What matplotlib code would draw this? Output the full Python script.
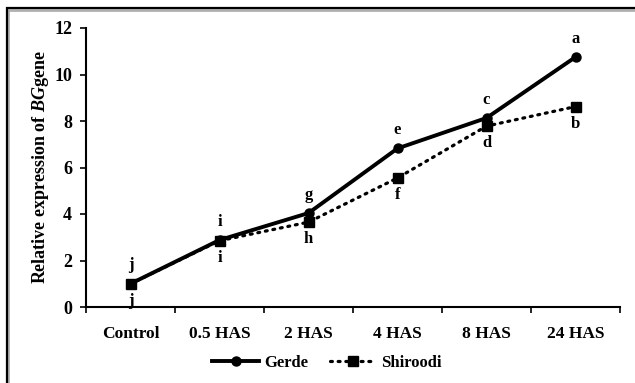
import matplotlib.pyplot as plt
import numpy as np
from matplotlib.patches import Rectangle
from matplotlib.lines import Line2D

plt.rcParams['font.family'] = ['Liberation Serif', 'DejaVu Serif']
plt.rcParams['mathtext.fontset'] = 'custom'
plt.rcParams['mathtext.it'] = 'Liberation Serif:italic:bold'
plt.rcParams['mathtext.rm'] = 'Liberation Serif:bold'

# data
times = ['Control', '0.5 HAS', '2 HAS', '4 HAS', '8 HAS', '24 HAS']
gerde = [1.0, 2.88, 4.04, 6.82, 8.13, 10.75]
shiroodi = [1.0, 2.85, 3.65, 5.55, 7.78, 8.62]
gerde_letters = ['j', 'i', 'g', 'e', 'c', 'a']
shiroodi_letters = ['j', 'i', 'h', 'f', 'd', 'b']

fig = plt.figure(figsize=(6.35, 3.83), dpi=100)
ax = fig.add_axes([86 / 635, 1 - 307 / 383, 534 / 635, 279 / 383])

# outer frame with a light shadow
fig.patches.append(Rectangle((8 / 635, -0.1), 1.1, 1 - 10 / 383 + 0.1,
                             transform=fig.transFigure, fill=False,
                             edgecolor='#b0b0b0', lw=2.0, zorder=0))
fig.patches.append(Rectangle((6.5 / 635, -0.1), 1.1, 1 - 8.5 / 383 + 0.1,
                             transform=fig.transFigure, fill=False,
                             edgecolor='black', lw=1.6, zorder=1))

dotted = (0, (0.6, 1.8))
x = np.arange(len(times))
ax.plot(x, shiroodi, color='black', lw=2.3, linestyle=dotted,
        dash_capstyle='round', marker='s', markersize=6.5, zorder=2)
ax.plot(x, gerde, color='black', lw=2.8, marker='o', markersize=6.5, zorder=3)

for i in range(len(times)):
    ax.text(x[i], gerde[i] + 0.45, gerde_letters[i], ha='center', va='bottom',
            fontsize=12, fontweight='bold')
    ax.text(x[i], shiroodi[i] - 0.4, shiroodi_letters[i], ha='center', va='top',
            fontsize=12, fontweight='bold')

ax.set_xlim(-0.5, len(times) - 0.5)
ax.set_ylim(0, 12)
ax.set_yticks(range(0, 13, 2))
ax.set_xticks(x)
ax.set_xticklabels(times, fontsize=12.5, fontweight='bold')
ax.set_xticks(np.arange(-0.5, len(times), 1.0), minor=True)
ax.tick_params(axis='x', which='major', length=0, pad=14)
ax.tick_params(axis='x', which='minor', length=4, width=1.2, direction='out')
ax.tick_params(axis='y', length=4, width=1.2, direction='out', labelsize=13, pad=6)
for lab in ax.get_yticklabels():
    lab.set_fontweight('bold')

for s in ['top', 'right']:
    ax.spines[s].set_visible(False)
for s in ['left', 'bottom']:
    ax.spines[s].set_linewidth(1.5)

ax.set_ylabel('Relative expression of $BG$gene', fontsize=13,
              fontweight='bold', labelpad=2.5)

handles = [Line2D([], [], color='black', lw=2.8, marker='o', markersize=6.5),
           Line2D([], [], color='black', lw=2.3, linestyle=dotted,
                  dash_capstyle='round', marker='s', markersize=6.5)]
leg = fig.legend(handles, ['Gerde', 'Shiroodi'], loc='center',
                 bbox_to_anchor=(327 / 635, 1 - 363 / 383), ncol=2,
                 frameon=False, handlelength=2.8, handletextpad=0.3,
                 columnspacing=1.3, prop={'weight': 'bold', 'size': 12})

fig.savefig('out.png', dpi=100)
